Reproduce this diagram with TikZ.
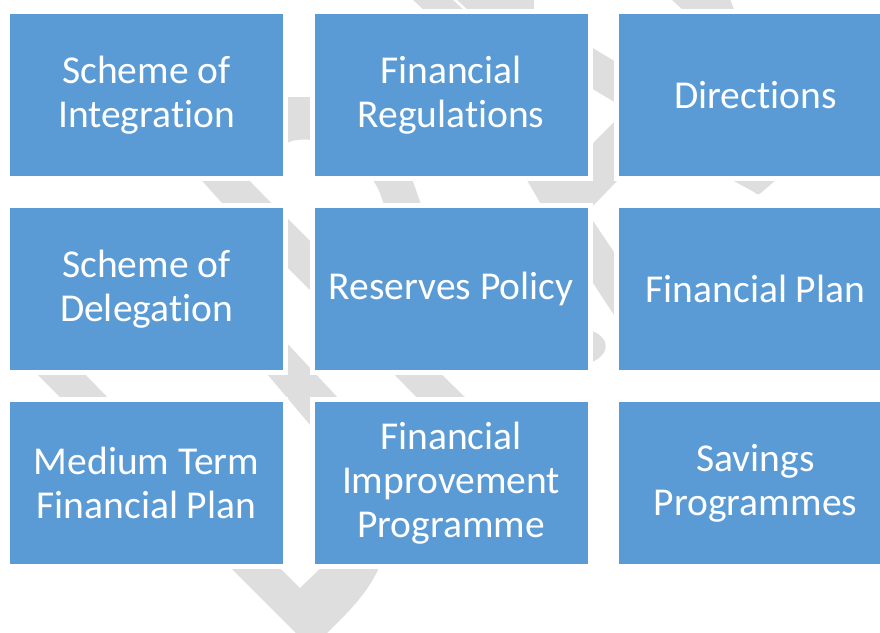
\documentclass[tikz,border=0pt]{standalone}
\usepackage{fontspec}
\setmainfont{Carlito}[Ligatures={NoCommon}]
\usetikzlibrary{positioning}

\definecolor{boxblue}{HTML}{5B9BD5}
\definecolor{shade}{HTML}{DEDEDE}

\begin{document}
\begin{tikzpicture}[x=1pt, y=-1pt,
  blk/.style={fill=boxblue, draw=white, line width=5pt, minimum width=278pt,
    minimum height=167pt, inner sep=0pt, text=white, align=center,
    font=\fontsize{39.5}{44}\selectfont},
  piece/.style={fill=shade}]
\def\ca{146.5} \def\cb{451} \def\cc{755.5}
\def\ra{95} \def\rb{289} \def\rc{483}

\useasboundingbox (0,0) rectangle (880,632);
\clip (0,0) rectangle (880,632);

% grey band behind the blocks
\fill[piece] (412,-1) -- (452,-1) -- (466,12) -- (426,12) -- cycle;
\fill[piece] (456,-1) -- (534,-1) -- (534,12) -- (470,12) -- cycle;
\fill[piece] (671,-1) -- (730,-1) -- (735,12) -- (685,12) -- cycle;
\fill[piece] (287,97) -- (312,97) -- (312,140)
  .. controls (300,139) and (292,140) .. (287,143) -- cycle;
\fill[piece] (591,47) -- (616,62) -- (616,103) -- (591,88) -- cycle;
\fill[piece] (195,173) -- (242,173) -- (281,213) -- (231,213) -- cycle;
\fill[piece] (366,173) -- (410,173) -- (424,213) -- (386,213)
  .. controls (381,192) and (375,180) .. (366,173) -- cycle;
\fill[piece] (521,170) -- (591,170) -- (591,145) -- (618,118) -- (618,180)
  -- (593,206) -- (542,206) -- cycle;
\fill[piece] (719,173) -- (784,173) -- (762,192)
  .. controls (759,195) and (757,195) .. (754,192) -- cycle;
\fill[piece] (287,218) -- (312,243) -- (312,292) -- (287,267) -- cycle;
\fill[piece] (591,218) -- (616,255) -- (616,318) -- (591,280) -- cycle;
\fill[piece] (590,330) .. controls (612,338) and (610,355) .. (590,363) -- cycle;
\fill[piece] (29,366) -- (77,366) -- (116,406) -- (69,406) -- cycle;
\fill[piece] (284,340) -- (340,400) -- (316,432) -- (262,368) -- (284,360) -- cycle;
\fill[piece] (386,366) -- (433,366) -- (474,406) -- (425,406) -- cycle;
\fill[piece] (226,563) -- (275,563) -- (300,588) -- (326,563) -- (381,563)
  .. controls (368,595) and (345,615) .. (320,640) -- (303,640) -- cycle;

% blocks
\node[blk] (integ) at (\ca,\ra) {Scheme of\\Integration};
\node[blk] (regs) at (\cb,\ra) {Financial\\Regulations};
\node[blk] (direct) at (\cc,\ra) {Directions};
\node[blk] (deleg) at (\ca,\rb) {Scheme of\\Delegation};
\node[blk] (reserve) at (\cb,\rb) {Reserves Policy};
\node[blk] (plan) at (\cc,\rb) {Financial Plan};
\node[blk] (mtfp) at (\ca,\rc) {Medium Term\\Financial Plan};
\node[blk] (improve) at (\cb,\rc) {Financial\\Improvement\\Programme};
\node[blk] (savings) at (\cc,\rc) {Savings\\Programmes};
\end{tikzpicture}
\end{document}
